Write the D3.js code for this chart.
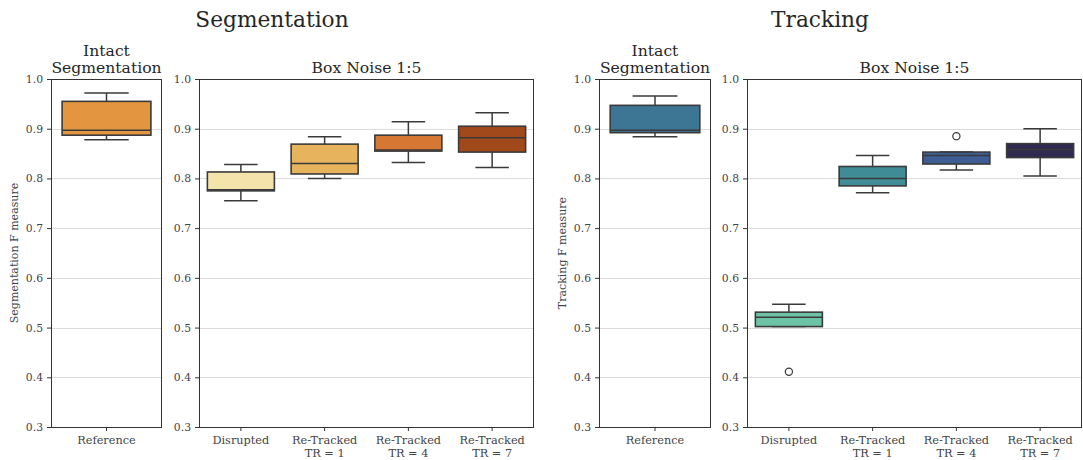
<!DOCTYPE html>
<html>
<head>
<meta charset="utf-8">
<script src="https://cdn.jsdelivr.net/npm/d3@7"></script>
<style>
  html, body { margin: 0; padding: 0; background: #fff; }
  svg { display: block; font-family: "DejaVu Serif", serif; }
</style>
</head>
<body>
<svg id="chart" width="1083" height="460"></svg>
<script>
// ---------------- data ----------------
const refCategories = ["Reference"];
const noiseCategories = ["Disrupted", "Re-Tracked\nTR = 1", "Re-Tracked\nTR = 4", "Re-Tracked\nTR = 7"];
const yTicks = [0.3, 0.4, 0.5, 0.6, 0.7, 0.8, 0.9, 1.0];

// [lower whisker, q1, median, q3, upper whisker]
const segRefStats = [[0.878, 0.887, 0.897, 0.955, 0.972]];
const segNoiseStats = [
  [0.755, 0.775, 0.777, 0.813, 0.828],
  [0.800, 0.809, 0.830, 0.869, 0.884],
  [0.832, 0.855, 0.857, 0.887, 0.914],
  [0.822, 0.853, 0.882, 0.905, 0.932]
];
const segRefOutliers = [[]];
const segNoiseOutliers = [[], [], [], []];

const trkRefStats = [[0.884, 0.892, 0.897, 0.947, 0.966]];
const trkNoiseStats = [
  [0.502, 0.502, 0.521, 0.531, 0.547],
  [0.771, 0.785, 0.800, 0.824, 0.846],
  [0.817, 0.829, 0.846, 0.853, 0.853],
  [0.805, 0.842, 0.858, 0.870, 0.900]
];
const trkRefOutliers = [[]];
const trkNoiseOutliers = [[0.411], [], [0.885], []];

const segRefColors = ["#e3963f"];
const segNoiseColors = ["#f4e4ab", "#e7b45d", "#d67833", "#a1491b"];
const trkRefColors = ["#3d7594"];
const trkNoiseColors = ["#6cc3a6", "#3f8c97", "#3d5d94", "#312a50"];

// ---------------- drawing ----------------
const svg = d3.select("#chart");
const yTop = 79, yBottom = 427;
const y = d3.scaleLinear().domain([0.3, 1.0]).range([yBottom, yTop]);

const edgeColor = "#3a3a3a";
const spineColor = "#333";

function panel(x0, x1, cats, stats, outliers, colors, titleLines, yLabel) {
  const g = svg.append("g");
  const x = d3.scaleBand().domain(cats).range([x0, x1]).paddingInner(0).paddingOuter(0);

  // grid
  g.selectAll("line.grid").data(yTicks.filter(t => t > 0.3 && t < 1.0)).enter()
    .append("line")
    .attr("x1", x0).attr("x2", x1)
    .attr("y1", d => Math.round(y(d)) + 0.5).attr("y2", d => Math.round(y(d)) + 0.5)
    .attr("stroke", "#dcdcdc").attr("stroke-width", 1);

  // y axis
  const yAxis = d3.axisLeft(y).tickValues(yTicks).tickFormat(d3.format(".1f")).tickSize(4).tickPadding(4);
  const ya = g.append("g").attr("transform", `translate(${x0},0)`).call(yAxis);
  ya.select(".domain").remove();
  ya.selectAll("line").attr("stroke", spineColor);
  ya.selectAll("text").attr("fill", "#444").attr("font-size", "10.8px").attr("font-family", "DejaVu Serif");

  // x axis
  const xAxis = d3.axisBottom(x).tickSize(4).tickPadding(4).tickFormat("");
  const xa = g.append("g").attr("transform", `translate(0,${yBottom})`).call(xAxis);
  xa.select(".domain").remove();
  xa.selectAll("line").attr("stroke", spineColor);
  xa.selectAll(".tick").each(function(d) {
    const lines = d.split("\n");
    const t = d3.select(this).append("text")
      .attr("fill", "#444").attr("font-size", "11.3px").attr("font-family", "DejaVu Serif")
      .attr("text-anchor", "middle");
    lines.forEach((ln, i) => {
      t.append("tspan").attr("x", 0).attr("y", 17 + i * 12.5).text(ln);
    });
  });

  // boxes
  const bw = x.bandwidth() * 0.8;
  cats.forEach((c, i) => {
    const [lo, q1, med, q3, hi] = stats[i];
    const cx = x(c) + x.bandwidth() / 2;
    const bg = g.append("g");
    bg.append("line").attr("x1", cx).attr("x2", cx).attr("y1", y(q3)).attr("y2", y(hi))
      .attr("stroke", edgeColor).attr("stroke-width", 1.5);
    bg.append("line").attr("x1", cx).attr("x2", cx).attr("y1", y(q1)).attr("y2", y(lo))
      .attr("stroke", edgeColor).attr("stroke-width", 1.5);
    [lo, hi].forEach(v => {
      bg.append("line").attr("x1", cx - bw / 4).attr("x2", cx + bw / 4)
        .attr("y1", y(v)).attr("y2", y(v))
        .attr("stroke", edgeColor).attr("stroke-width", 1.5);
    });
    bg.append("rect").attr("x", cx - bw / 2).attr("width", bw)
      .attr("y", y(q3)).attr("height", y(q1) - y(q3))
      .attr("fill", colors[i]).attr("stroke", edgeColor).attr("stroke-width", 1.6);
    bg.append("line").attr("x1", cx - bw / 2).attr("x2", cx + bw / 2)
      .attr("y1", y(med)).attr("y2", y(med))
      .attr("stroke", edgeColor).attr("stroke-width", 1.5);
    outliers[i].forEach(v => {
      bg.append("circle").attr("cx", cx).attr("cy", y(v)).attr("r", 3.6)
        .attr("fill", "none").attr("stroke", edgeColor).attr("stroke-width", 1.2);
    });
  });

  // frame
  g.append("rect").attr("x", x0 + 0.5).attr("y", yTop + 0.5)
    .attr("width", x1 - x0 - 1).attr("height", yBottom - yTop)
    .attr("fill", "none").attr("stroke", spineColor).attr("stroke-width", 1);

  // title
  const cxp = (x0 + x1) / 2;
  const n = titleLines.length;
  titleLines.forEach((ln, i) => {
    g.append("text").attr("x", cxp).attr("y", 73 - (n - 1 - i) * 17)
      .attr("text-anchor", "middle").attr("font-size", "15.6px").attr("fill", "#262626")
      .text(ln);
  });

  if (yLabel) {
    g.append("text")
      .attr("transform", `translate(${x0 - 33},${(yTop + yBottom) / 2}) rotate(-90)`)
      .attr("text-anchor", "middle").attr("font-size", "11px").attr("fill", "#444")
      .text(yLabel);
  }
}

panel(51, 162, refCategories, segRefStats, segRefOutliers, segRefColors, ["Intact", "Segmentation"], "Segmentation F measure");
panel(199, 534, noiseCategories, segNoiseStats, segNoiseOutliers, segNoiseColors, ["Box Noise 1:5"], null);
panel(599, 711, refCategories, trkRefStats, trkRefOutliers, trkRefColors, ["Intact", "Segmentation"], "Tracking F measure");
panel(747, 1082, noiseCategories, trkNoiseStats, trkNoiseOutliers, trkNoiseColors, ["Box Noise 1:5"], null);

// super titles
svg.append("text").attr("x", 272).attr("y", 27).attr("text-anchor", "middle")
  .attr("font-size", "21.7px").attr("fill", "#262626").text("Segmentation");
svg.append("text").attr("x", 820).attr("y", 27).attr("text-anchor", "middle")
  .attr("font-size", "21.7px").attr("fill", "#262626").text("Tracking");
</script>
</body>
</html>
